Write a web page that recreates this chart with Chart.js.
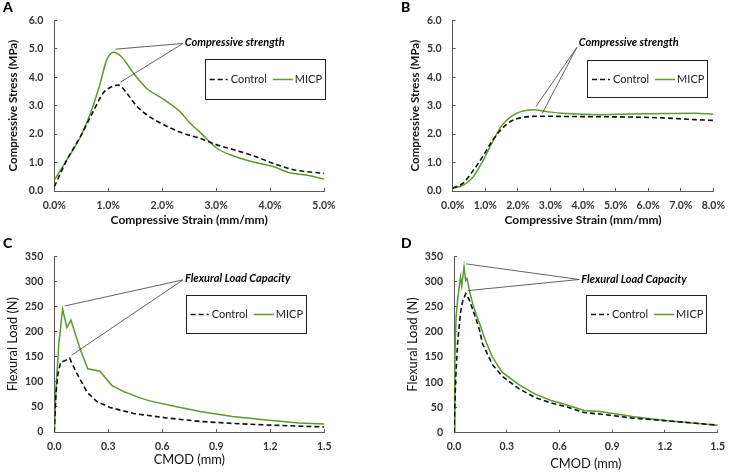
<!DOCTYPE html>
<html><head><meta charset="utf-8">
<script src="https://cdn.jsdelivr.net/npm/chart.js@4.4.1/dist/chart.umd.min.js"></script>
<style>
html,body{margin:0;padding:0;background:#fff;}
#wrap{position:relative;width:736px;height:472px;overflow:hidden;background:#fff;}
.pane{position:absolute;width:368px;height:236px;}
.lbl{position:absolute;font:900 14px Lato,sans-serif;line-height:14px;color:#000;}
</style></head><body>
<div id="wrap">
  <div class="pane" style="left:0;top:0"><canvas id="cA"></canvas></div>
  <div class="pane" style="left:368px;top:0"><canvas id="cB"></canvas></div>
  <div class="pane" style="left:0;top:236px"><canvas id="cC"></canvas></div>
  <div class="pane" style="left:368px;top:236px"><canvas id="cD"></canvas></div>
  <div class="lbl" style="left:3px;top:0px">A</div>
  <div class="lbl" style="left:401px;top:0px">B</div>
  <div class="lbl" style="left:3px;top:236px">C</div>
  <div class="lbl" style="left:401px;top:236px">D</div>
</div>
<script>
// ---------- data ----------
const seriesNames = ['Control', 'MICP'];

// Panel A: compressive stress (MPa) vs strain (%)
const aControlStrain = [0, 0.23, 0.48, 0.72, 0.91, 1.09, 1.19, 1.34, 1.52, 1.71, 1.96, 2.33, 2.7, 3.0, 3.31, 3.69, 4.06, 4.43, 5.0];
const aControlStress = [0.15, 1.08, 1.9, 2.79, 3.45, 3.69, 3.72, 3.45, 3.0, 2.68, 2.4, 2.07, 1.85, 1.63, 1.46, 1.24, 0.97, 0.75, 0.62];
const aMicpStrain = [0, 0.2, 0.5, 0.72, 0.85, 0.97, 1.1, 1.25, 1.46, 1.71, 2.02, 2.33, 2.51, 2.7, 3.0, 3.31, 3.69, 4.06, 4.36, 4.67, 5.0];
const aMicpStress = [0.38, 1.0, 1.96, 3.0, 3.78, 4.6, 4.88, 4.71, 4.16, 3.61, 3.23, 2.79, 2.4, 2.07, 1.52, 1.24, 1.02, 0.86, 0.64, 0.56, 0.42];

// Panel B
const bControlStrain = [0, 0.32, 0.61, 0.91, 1.2, 1.5, 1.8, 2.09, 2.69, 3.48, 4.46, 5.45, 6.44, 7.43, 8.0];
const bControlStress = [0.1, 0.28, 0.69, 1.19, 1.74, 2.18, 2.46, 2.57, 2.63, 2.62, 2.61, 2.6, 2.57, 2.51, 2.48];
const bMicpStrain = [0, 0.32, 0.61, 0.91, 1.2, 1.5, 1.8, 2.09, 2.49, 2.88, 3.48, 4.46, 5.45, 6.44, 7.43, 8.0];
const bMicpStress = [0.1, 0.2, 0.47, 1.02, 1.68, 2.29, 2.62, 2.79, 2.86, 2.79, 2.72, 2.68, 2.71, 2.72, 2.73, 2.7];

// Panel C: flexural load (N) vs CMOD (mm)
const cControlCmod = [0, 0.009, 0.02, 0.035, 0.059, 0.085, 0.115, 0.143, 0.183, 0.235, 0.309, 0.439, 0.624, 0.81, 0.994, 1.18, 1.5];
const cControlLoad = [0, 76, 115, 139, 142, 147, 124, 105, 79, 61, 49, 37, 28, 21, 17, 14, 10];
const cMicpCmod = [0, 0.01, 0.025, 0.046, 0.07, 0.092, 0.143, 0.186, 0.254, 0.319, 0.383, 0.476, 0.53, 0.66, 0.81, 0.99, 1.18, 1.36, 1.5];
const cMicpLoad = [0, 90, 175, 245, 208, 223, 166, 126, 121, 93, 81, 68, 62, 52, 41, 31, 24, 18, 16];

// Panel D
const dControlCmod = [0, 0.01, 0.02, 0.028, 0.037, 0.05, 0.067, 0.085, 0.107, 0.126, 0.144, 0.163, 0.219, 0.274, 0.367, 0.459, 0.552, 0.644, 0.74, 0.83, 1.015, 1.2, 1.5];
const dControlLoad = [0, 110, 175, 205, 238, 262, 276, 265, 244, 225, 205, 176, 135, 112, 88, 70, 59, 51, 40, 37, 29, 24, 15];
const dMicpCmod = [0, 0.005, 0.012, 0.02, 0.03, 0.037, 0.044, 0.057, 0.066, 0.074, 0.089, 0.107, 0.125, 0.144, 0.181, 0.219, 0.274, 0.367, 0.459, 0.552, 0.644, 0.74, 0.83, 1.015, 1.2, 1.5];
const dMicpLoad = [0, 150, 230, 262, 290, 309, 291, 329, 302, 306, 280, 255, 236, 218, 181, 150, 120, 96, 77, 64, 55, 44, 42, 32, 24, 15];

// ticks
const strainTicksA = [0, 1, 2, 3, 4, 5];
const strainLabelsA = ['0.0%', '1.0%', '2.0%', '3.0%', '4.0%', '5.0%'];
const strainTicksB = [0, 1, 2, 3, 4, 5, 6, 7, 8];
const strainLabelsB = ['0.0%', '1.0%', '2.0%', '3.0%', '4.0%', '5.0%', '6.0%', '7.0%', '8.0%'];
const stressTicks = [0, 1, 2, 3, 4, 5, 6];
const stressLabels = ['0.0', '1.0', '2.0', '3.0', '4.0', '5.0', '6.0'];
const cmodTicks = [0, 0.3, 0.6, 0.9, 1.2, 1.5];
const cmodLabels = ['0.0', '0.3', '0.6', '0.9', '1.2', '1.5'];
const loadTicks = [0, 50, 100, 150, 200, 250, 300, 350];
const loadLabels = ['0', '50', '100', '150', '200', '250', '300', '350'];

const noteCompressive = 'Compressive strength';
const noteFlexural = 'Flexural Load Capacity';

// ---------- styling ----------
const GREEN = '#5a9a2e';
const AXIS = '#595959';
const TICKC = '#333';
const FONT = 'Lato, "Open Sans", sans-serif';
Chart.defaults.font.family = FONT;

const boxLegend = {
  id: 'boxLegend',
  afterDraw(chart, args, o) {
    const {ctx, chartArea: ca} = chart;
    const ds = chart.data.datasets;
    ctx.save();
    ctx.font = '11px ' + FONT;
    const w0 = ctx.measureText(ds[0].label).width;
    const w1 = ctx.measureText(ds[1].label).width;
    const pl = 5, s0 = 18, g1 = 3, g2 = 6, s1 = 20, g3 = 2, pr = 3;
    const W = pl + s0 + g1 + w0 + g2 + s1 + g3 + w1 + pr;
    const right = ca.right + o.dx, top = ca.top + o.dy, H = o.h;
    const left = right - W;
    ctx.strokeStyle = '#222';
    ctx.lineWidth = 1;
    ctx.strokeRect(Math.round(left) + 0.5, Math.round(top) + 0.5, Math.round(W), Math.round(H));
    const cy = Math.round(top + H / 2) + 0.5;
    let x = left + pl;
    ctx.beginPath();
    ctx.setLineDash(ds[0].borderDash);
    ctx.strokeStyle = ds[0].borderColor;
    ctx.lineWidth = ds[0].borderWidth;
    ctx.moveTo(x, cy); ctx.lineTo(x + s0, cy); ctx.stroke();
    ctx.setLineDash([]);
    x += s0 + g1;
    ctx.fillStyle = '#222';
    ctx.textBaseline = 'middle';
    ctx.textAlign = 'left';
    ctx.fillText(ds[0].label, x, cy);
    x += w0 + g2;
    ctx.beginPath();
    ctx.strokeStyle = ds[1].borderColor;
    ctx.lineWidth = ds[1].borderWidth;
    ctx.moveTo(x, cy); ctx.lineTo(x + s1, cy); ctx.stroke();
    x += s1 + g3;
    ctx.fillText(ds[1].label, x, cy);
    ctx.restore();
  }
};

const peakNote = {
  id: 'peakNote',
  afterDatasetsDraw(chart, args, o) {
    const {ctx} = chart;
    const xs = chart.scales.x, ys = chart.scales.y;
    const tx = xs.getPixelForValue(o.x), ty = ys.getPixelForValue(o.y);
    ctx.save();
    ctx.strokeStyle = '#3a3a3a';
    ctx.lineWidth = 0.8;
    chart.data.datasets.forEach(d => {
      let p = d.data[0];
      d.data.forEach(q => { if (q.y > p.y) p = q; });
      const px = xs.getPixelForValue(p.x) + 2, py = ys.getPixelForValue(p.y) - 3;
      ctx.beginPath();
      ctx.moveTo(tx - 2, ty + o.sy);
      ctx.lineTo(px, py);
      ctx.stroke();
    });
    ctx.font = 'italic bold 11px ' + FONT;
    ctx.fillStyle = '#000';
    ctx.textBaseline = 'middle';
    ctx.textAlign = 'left';
    ctx.fillText(o.text, tx, ty);
    ctx.restore();
  }
};

function pts(xs, ys) { return xs.map((x, i) => ({x: x, y: ys[i]})); }

function panel(id, o) {
  return new Chart(document.getElementById(id), {
    type: 'line',
    data: {
      datasets: [
        {label: seriesNames[0], data: pts(o.cx, o.cy), borderColor: '#111', borderWidth: 1.6, borderDash: [5, 3],
         pointRadius: 0, fill: false, cubicInterpolationMode: o.smooth ? 'monotone' : 'default', tension: 0},
        {label: seriesNames[1], data: pts(o.mx, o.my), borderColor: GREEN, borderWidth: 1.5,
         pointRadius: 0, fill: false, cubicInterpolationMode: o.smooth ? 'monotone' : 'default', tension: 0}
      ]
    },
    options: {
      responsive: true, maintainAspectRatio: false, animation: false, events: [],
      layout: {padding: o.pad},
      plugins: {legend: {display: false}, tooltip: {enabled: false}, boxLegend: o.legend, peakNote: o.note},
      scales: {
        x: {
          type: 'linear', min: o.xTicks[0], max: o.xTicks[o.xTicks.length - 1],
          afterBuildTicks: s => { s.ticks = o.xTicks.map(v => ({value: v})); },
          afterFit: s => { s.height = o.xH; },
          ticks: {callback: (v, i) => o.xLabels[i], padding: 11, color: TICKC, maxRotation: 0, autoSkip: false,
                  font: {size: 10.5, weight: 'bold'}},
          grid: {drawOnChartArea: false, tickLength: -3, color: AXIS},
          border: {color: AXIS, width: 1},
          title: {display: true, text: o.xTitle, color: '#111', font: o.xTitleFont, padding: {top: 0, bottom: o.xTitlePad}}
        },
        y: {
          type: 'linear', min: o.yTicks[0], max: o.yTicks[o.yTicks.length - 1],
          afterBuildTicks: s => { s.ticks = o.yTicks.map(v => ({value: v})); },
          afterFit: s => { s.width = o.yW; },
          ticks: {callback: (v, i) => o.yLabels[i], padding: 14, color: TICKC, autoSkip: false,
                  font: {size: 10.5, weight: 'bold'}},
          grid: {drawOnChartArea: false, tickLength: -3, color: AXIS},
          border: {color: AXIS, width: 1},
          title: {display: true, text: o.yTitle, color: '#111', font: o.yTitleFont, padding: {top: o.yTitlePad, bottom: 0}}
        }
      }
    },
    plugins: [boxLegend, peakNote]
  });
}

const smallTitle = {size: 11.5, weight: 'bold'};
const strainTitle = {size: 12, weight: 'bold'};
const bigTitle = {size: 12.8, weight: 'normal'};

panel('cA', {
  cx: aControlStrain, cy: aControlStress, mx: aMicpStrain, my: aMicpStress, smooth: true,
  xTicks: strainTicksA, xLabels: strainLabelsA, yTicks: stressTicks, yLabels: stressLabels,
  pad: {left: 0, top: 9.3, right: 44, bottom: 5}, xH: 40, yW: 54.3,
  xTitle: 'Compressive Strain (mm/mm)', xTitleFont: strainTitle, xTitlePad: 3.8,
  yTitle: 'Compressive Stress (MPa)', yTitleFont: smallTitle, yTitlePad: 6.4,
  legend: {dx: 1, dy: 38.4, h: 39.6},
  note: {text: noteCompressive, x: 2.42, y: 5.22, sy: 1}
});
panel('cB', {
  cx: bControlStrain, cy: bControlStress, mx: bMicpStrain, my: bMicpStress, smooth: true,
  xTicks: strainTicksB, xLabels: strainLabelsB, yTicks: stressTicks, yLabels: stressLabels,
  pad: {left: 34, top: 9.3, right: 13.3, bottom: 5}, xH: 40, yW: 50.7,
  xTitle: 'Compressive Strain (mm/mm)', xTitleFont: strainTitle, xTitlePad: 3.8,
  yTitle: 'Compressive Stress (MPa)', yTitleFont: smallTitle, yTitlePad: 6.1,
  legend: {dx: -6, dy: 40, h: 36.7},
  note: {text: noteCompressive, x: 3.87, y: 5.22, sy: 5}
});
panel('cC', {
  cx: cControlCmod, cy: cControlLoad, mx: cMicpCmod, my: cMicpLoad, smooth: false,
  xTicks: cmodTicks, xLabels: cmodLabels, yTicks: loadTicks, yLabels: loadLabels,
  pad: {left: 0, top: 15, right: 43.7, bottom: 0}, xH: 40, yW: 54.3,
  xTitle: 'CMOD (mm)', xTitleFont: bigTitle, xTitlePad: 4,
  yTitle: 'Flexural Load (N)', yTitleFont: bigTitle, yTitlePad: 5.6,
  legend: {dx: -18.3, dy: 39, h: 37.7},
  note: {text: noteFlexural, x: 0.726, y: 305, sy: 1}
});
panel('cD', {
  cx: dControlCmod, cy: dControlLoad, mx: dMicpCmod, my: dMicpLoad, smooth: false,
  xTicks: cmodTicks, xLabels: cmodLabels, yTicks: loadTicks, yLabels: loadLabels,
  pad: {left: 34, top: 15, right: 12, bottom: 0}, xH: 39.3, yW: 52,
  xTitle: 'CMOD (mm)', xTitleFont: bigTitle, xTitlePad: 0.6,
  yTitle: 'Flexural Load (N)', yTitleFont: bigTitle, yTitlePad: 3.6,
  legend: {dx: -11.3, dy: 39, h: 37.7},
  note: {text: noteFlexural, x: 0.724, y: 305, sy: 0.5}
});
</script>
</body></html>
